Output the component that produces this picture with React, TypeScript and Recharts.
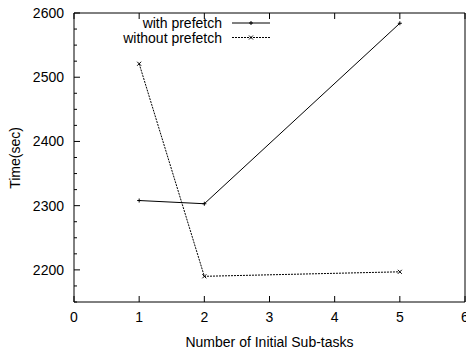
import React from 'react';
import { LineChart, Line, XAxis, YAxis } from 'recharts';

const subTasks = [1, 2, 5];
const withPrefetch = [2308, 2303, 2584];
const withoutPrefetch = [2521, 2190, 2197];
const xTicks = [0, 1, 2, 3, 4, 5, 6];
const yTicks = [2150, 2175, 2200, 2225, 2250, 2275, 2300, 2325, 2350, 2375, 2400, 2425, 2450, 2475, 2500, 2525, 2550, 2575, 2600];

const data = subTasks.map((n, i) => ({
  n,
  with: withPrefetch[i],
  without: withoutPrefetch[i],
}));

const FONT = '"Liberation Sans", Arial, sans-serif';
const TICK_GAP = 8;

const BottomTick = (props: any) => {
  const { x, y, payload } = props;
  const axisY = y - TICK_GAP;
  return (
    <g>
      <line x1={x} y1={axisY} x2={x} y2={axisY - 6} stroke="#000" />
      <text x={x} y={y + 12} textAnchor="middle" fontSize={14} fontFamily={FONT} fill="#000">
        {payload.value}
      </text>
    </g>
  );
};

const TopTick = (props: any) => {
  const { x, y } = props;
  const axisY = y + TICK_GAP;
  return <line x1={x} y1={axisY} x2={x} y2={axisY + 6} stroke="#000" />;
};

const LeftTick = (props: any) => {
  const { x, y, payload } = props;
  const axisX = x + TICK_GAP;
  const major = payload.value % 100 === 0;
  return (
    <g>
      <line x1={axisX} y1={y} x2={axisX + (major ? 6 : 3)} y2={y} stroke="#000" />
      {major && (
        <text x={axisX - 10} y={y + 5} textAnchor="end" fontSize={14} fontFamily={FONT} fill="#000">
          {payload.value}
        </text>
      )}
    </g>
  );
};

const RightTick = (props: any) => {
  const { x, y, payload } = props;
  const axisX = x - TICK_GAP;
  const major = payload.value % 100 === 0;
  return <line x1={axisX} y1={y} x2={axisX - (major ? 6 : 3)} y2={y} stroke="#000" />;
};

const PlusDot = (props: any) => {
  const { cx, cy } = props;
  return (
    <g stroke="#000" strokeWidth={1}>
      <line x1={cx - 2} y1={cy} x2={cx + 2} y2={cy} />
      <line x1={cx} y1={cy - 2} x2={cx} y2={cy + 2} />
    </g>
  );
};

const CrossDot = (props: any) => {
  const { cx, cy } = props;
  return (
    <g stroke="#000" strokeWidth={1}>
      <line x1={cx - 2} y1={cy - 2} x2={cx + 2} y2={cy + 2} />
      <line x1={cx - 2} y1={cy + 2} x2={cx + 2} y2={cy - 2} />
    </g>
  );
};

const legendRows = [
  { label: 'with prefetch', dash: undefined, Dot: PlusDot },
  { label: 'without prefetch', dash: '2 1', Dot: CrossDot },
];

// legend and y title drawn on top of the chart, gnuplot style
const Overlay = () => (
  <svg width={466} height={350} style={{ position: 'absolute', left: 0, top: 0, pointerEvents: 'none' }}>
    <text
      x={20}
      y={158}
      transform="rotate(-90 20 158)"
      textAnchor="middle"
      fontSize={14}
      fontFamily={FONT}
      fill="#000"
    >
      Time(sec)
    </text>
    {legendRows.map((r, i) => {
      const y = 23 + i * 14.5;
      return (
        <g key={r.label}>
          <text x={222} y={y + 5} textAnchor="end" fontSize={14} fontFamily={FONT} fill="#000">
            {r.label}
          </text>
          <line x1={232} y1={y} x2={270} y2={y} stroke="#000" strokeDasharray={r.dash} />
          <r.Dot cx={251} cy={y} />
        </g>
      );
    })}
  </svg>
);

export default function App() {
  return (
    <div style={{ position: 'absolute', left: 0, top: 0, width: 466, height: 350, background: '#fff' }}>
      <LineChart width={466} height={350} data={data} margin={{ top: 12, right: 0, bottom: 0, left: 0 }}>
        <XAxis
          xAxisId="bottom"
          dataKey="n"
          type="number"
          domain={[0, 6]}
          ticks={xTicks}
          interval={0}
          height={48}
          stroke="#000"
          tickLine={false}
          tickSize={0}
          tickMargin={TICK_GAP}
          tick={<BottomTick />}
          label={{ value: 'Number of Initial Sub-tasks', position: 'insideBottom', offset: 3, fontSize: 14, fontFamily: FONT, fill: '#000' }}
        />
        <XAxis
          xAxisId="top"
          orientation="top"
          dataKey="n"
          type="number"
          domain={[0, 6]}
          ticks={xTicks}
          interval={0}
          height={1}
          stroke="#000"
          tickLine={false}
          tickSize={0}
          tickMargin={TICK_GAP}
          tick={<TopTick />}
        />
        <YAxis
          yAxisId="left"
          type="number"
          domain={[2150, 2600]}
          ticks={yTicks}
          interval={0}
          width={74}
          stroke="#000"
          tickLine={false}
          tickSize={0}
          tickMargin={TICK_GAP}
          tick={<LeftTick />}
        />
        <YAxis
          yAxisId="right"
          orientation="right"
          type="number"
          domain={[2150, 2600]}
          ticks={yTicks}
          interval={0}
          width={1}
          stroke="#000"
          tickLine={false}
          tickSize={0}
          tickMargin={TICK_GAP}
          tick={<RightTick />}
        />
        <Line
          xAxisId="bottom"
          yAxisId="left"
          dataKey="with"
          name="with prefetch"
          stroke="#000"
          strokeWidth={1}
          dot={<PlusDot />}
          isAnimationActive={false}
        />
        <Line
          xAxisId="bottom"
          yAxisId="left"
          dataKey="without"
          name="without prefetch"
          stroke="#000"
          strokeWidth={1}
          strokeDasharray="2 1"
          dot={<CrossDot />}
          isAnimationActive={false}
        />
      </LineChart>
      <Overlay />
    </div>
  );
}
